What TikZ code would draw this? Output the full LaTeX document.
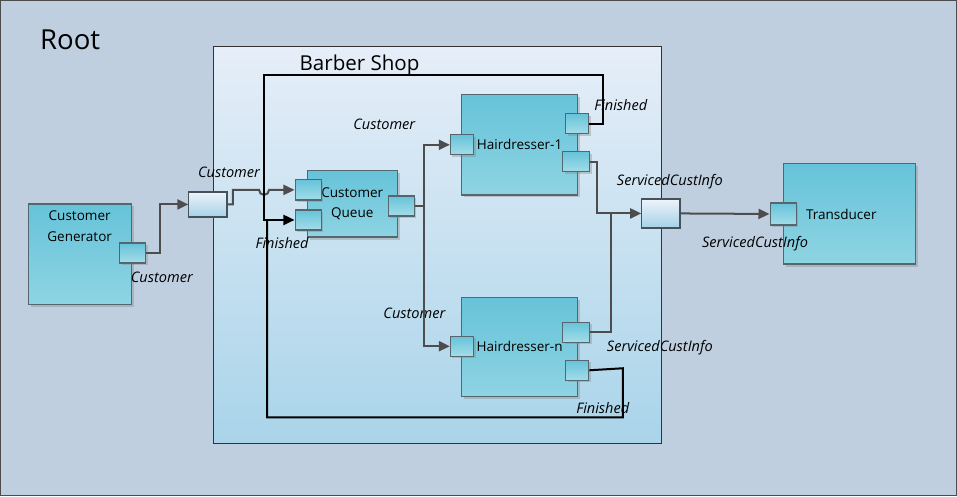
\documentclass[tikz,border=0pt]{standalone}
\usepackage{fontspec}
\setmainfont{Open Sans}
\usetikzlibrary{arrows.meta,shadows}
\definecolor{rootfill}{HTML}{BFCFE0}
\definecolor{boxtop}{HTML}{66C3D9}
\definecolor{boxbot}{HTML}{8ED4E3}
\definecolor{shoptop}{HTML}{E6EEF8}
\definecolor{shopbot}{HTML}{A9D4E9}
\definecolor{relaytop}{HTML}{EEF3FA}
\definecolor{relaybot}{HTML}{A4D2E8}
\definecolor{wire}{HTML}{4D4D4D}
\definecolor{edge}{HTML}{56666F}
\begin{document}
\begin{tikzpicture}[x=1pt, y=-1pt,
    model/.style={rectangle, draw=edge, line width=1.2pt, shading=axis, top color=boxtop, bottom color=boxbot,
        drop shadow={shadow xshift=2.5pt, shadow yshift=-2.5pt, opacity=0.35}, inner sep=0pt, font=\fontsize{13.5}{17}\selectfont},
    port/.style={rectangle, draw=edge, line width=1.2pt, shading=axis, top color=boxtop, bottom color=boxbot!80!white,
        drop shadow={shadow xshift=2pt, shadow yshift=-2pt, opacity=0.35}, minimum width=26pt, minimum height=20pt, inner sep=0pt},
    relay/.style={rectangle, draw=edge!80!black, line width=1.2pt, shading=axis, top color=relaytop, bottom color=relaybot,
        minimum width=38pt, inner sep=0pt},
    portname/.style={font=\fontsize{14.5}{17}\selectfont\itshape},
    arrow/.style={-{Triangle[length=11pt,width=10pt]}, draw=wire, line width=2pt},
    fin/.style={-{Triangle[length=11pt,width=10pt]}, draw=black, line width=2pt},
    plain/.style={draw=wire, line width=2pt}
]
    % Root and Barber Shop
    \node[rectangle, draw=black!70, line width=1pt, fill=rootfill, minimum width=954pt, minimum height=494pt, anchor=north west] (root) at (1.5,1.5) {};
    \node[font=\fontsize{27.5}{30}\selectfont, anchor=west] (roottitle) at (38,41) {Root};
    \node[rectangle, draw=black!80, line width=1pt, shading=axis, top color=shoptop, bottom color=shopbot, minimum width=447pt, minimum height=397pt, anchor=north west] (shop) at (214,47) {};
    \node[font=\fontsize{20.5}{23}\selectfont, anchor=west] (shoptitle) at (297,67) {Barber Shop};

    % models
    \node[model, minimum width=103pt, minimum height=100pt] (gen) at (81.5,255) {};
    \node[align=center, font=\fontsize{13.5}{21}\selectfont] (gentext) at (81,227) {Customer\\Generator};
    \node[model, minimum width=90pt, minimum height=66pt, align=center, font=\fontsize{13.5}{19.5}\selectfont] (queue) at (353,205) {Customer\\Queue};
    \node[model, minimum width=116pt, minimum height=100pt] (hd1) at (520,146) {Hairdresser-1};
    \node[model, minimum width=116pt, minimum height=99pt] (hdn) at (520,347.5) {Hairdresser-n};
    \node[model, minimum width=132pt, minimum height=100pt] (trans) at (849,215) {\hspace*{-16pt}Transducer};

    % ports
    \node[port] (genout) at (134,254) {};
    \node[relay, minimum height=25pt] (shopin) at (209,205.5) {};
    \node[relay, minimum height=29pt] (shopout) at (661,214.5) {};
    \node[port] (qin1) at (309,191) {};
    \node[port] (qin2) at (309,221) {};
    \node[port] (qout) at (402,207) {};
    \node[port, minimum width=23pt] (h1in) at (462.5,146) {};
    \node[port, minimum width=23pt] (h1fin) at (577.5,125) {};
    \node[port, minimum width=27pt] (h1srv) at (576.5,163) {};
    \node[port, minimum width=23pt] (hnin) at (462.5,347) {};
    \node[port, minimum width=27pt] (hnsrv) at (576.5,333) {};
    \node[port, minimum width=23pt] (hnfin) at (577.5,371) {};
    \node[port, minimum height=22pt] (tin) at (783,215) {};

    % port names
    \node[portname] (l1) at (163,278) {Customer};
    \node[portname] (l2) at (230,173) {Customer};
    \node[portname] (l3) at (385,126) {Customer};
    \node[portname] (l4) at (415,314) {Customer};
    \node[portname] (l5) at (283,244) {Finished};
    \node[portname] (l6) at (621,106) {Finished};
    \node[portname] (l7) at (603,409) {Finished};
    \node[portname] (l8) at (670,183) {ServicedCustInfo};
    \node[portname] (l9) at (660,348) {ServicedCustInfo};
    \node[portname] (l10) at (755,245) {ServicedCustInfo};

    % connectors
    \draw[arrow] (genout.east) -- (161,254) |- (shopin.west);
    \draw[arrow] (shopin.east) -- (234,205.5) -- (234,191) -- (260,191) arc[start angle=180, end angle=0, radius=5] -- (qin1.west);
    \draw[arrow] (qout.east) -- (425,207) |- (h1in.west);
    \draw[arrow] (425,207) |- (hnin.west);
    \draw[fin] (h1fin.east) -- (603,125) -- (603,76) -- (265,76) |- (qin2.west);
    \draw[black, line width=2pt] (hnfin.east) -- (623,369) -- (623,418) -- (268,418) -- (268,221);
    \draw[arrow] (h1srv.east) -- (597,163) |- (shopout.west);
    \draw[plain] (hnsrv.east) -- (611,333) -- (611,214.5);
    \draw[arrow] (shopout.east) -- (tin.west);
\end{tikzpicture}
\end{document}
